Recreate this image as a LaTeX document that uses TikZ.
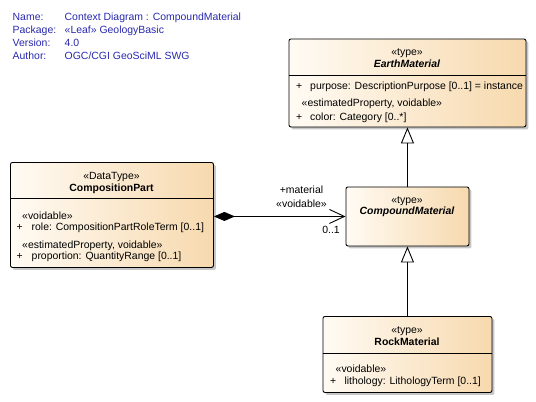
\documentclass[tikz,border=0pt]{standalone}
\usepackage{fontspec}
\setmainfont{Liberation Sans}
\usetikzlibrary{shadows,arrows.meta}
\definecolor{cl}{RGB}{255,251,244}
\definecolor{cr}{RGB}{247,217,174}
\definecolor{hdr}{RGB}{40,40,175}
\begin{document}
\begin{tikzpicture}[x=1pt,y=-1pt,
  cls/.style={draw=black, line width=0.9pt, rounded corners=2pt, left color=cl, right color=cr,
    drop shadow={shadow xshift=2.5pt, shadow yshift=-2.5pt, fill=black!22, opacity=1},
    inner sep=0pt, anchor=north west},
  txt/.style={font=\fontsize{10.45}{12}\selectfont, inner sep=0pt, anchor=base west},
  ctxt/.style={txt, anchor=base},
  hd/.style={txt, text=hdr},
  sep/.style={line width=0.9pt},
  gen/.style={line width=0.9pt, -{Triangle[open, length=16pt, width=13pt, fill=white]}},
  assoc/.style={line width=0.9pt, {Diamond[length=21pt, width=9pt, fill=black]}-{Straight Barb[length=15pt, width=14pt, line width=0.9pt]}}
]
\useasboundingbox (0,0) rectangle (536,402);

% header
\node[hd] (n1) at (12.5,20) {Name:};
\node[hd] (n2) at (12.5,33) {Package:};
\node[hd] (n3) at (12.5,46) {Version:};
\node[hd] (n4) at (12.5,59) {Author:};
\node[hd] (v1) at (64.5,20) {Context Diagram : CompoundMaterial};
\node[hd] (v2) at (64.5,33) {«Leaf» GeologyBasic};
\node[hd] (v3) at (64.5,46) {4.0};
\node[hd] (v4) at (64.5,59) {OGC/CGI GeoSciML SWG};

% boxes
\node[cls, minimum width=237pt, minimum height=88pt] (em) at (288.5,38.5) {};
\node[cls, minimum width=203pt, minimum height=105pt] (cp) at (10,162) {};
\node[cls, minimum width=123pt, minimum height=59pt] (cm) at (345.5,186.5) {};
\node[cls, minimum width=169pt, minimum height=76pt] (rm) at (322.5,316) {};

% separators
\draw[sep] (em.west |- 0,75) -- (em.east |- 0,75);
\draw[sep] (cp.west |- 0,198) -- (cp.east |- 0,198);
\draw[sep] (rm.west |- 0,353) -- (rm.east |- 0,353);

% EarthMaterial
\node[ctxt] (emst) at (407,55.5) {«type»};
\node[ctxt, font=\fontsize{10.45}{12}\selectfont\bfseries\itshape] (emnm) at (407,67.5) {EarthMaterial};
\node[txt] (ema1p) at (296,89) {+};
\node[txt] (ema1) at (310,89) {purpose: DescriptionPurpose [0..1] = instance};
\node[txt] (ems2) at (301.5,106.5) {«estimatedProperty, voidable»};
\node[txt] (ema2p) at (296,120.5) {+};
\node[txt] (ema2) at (310,120.5) {color: Category [0..*]};

% CompositionPart
\node[ctxt] (cpst) at (111.5,179.7) {«DataType»};
\node[ctxt, font=\fontsize{10.45}{12}\selectfont\bfseries] (cpnm) at (111.5,191.7) {CompositionPart};
\node[txt] (cps1) at (22,219) {«voidable»};
\node[txt] (cpa1p) at (16.5,230.7) {+};
\node[txt] (cpa1) at (31.5,230.7) {role: CompositionPartRoleTerm [0..1]};
\node[txt] (cps2) at (22,248.3) {«estimatedProperty, voidable»};
\node[txt] (cpa2p) at (16.5,259.7) {+};
\node[txt] (cpa2) at (31.5,259.7) {proportion: QuantityRange [0..1]};

% CompoundMaterial
\node[ctxt] (cmst) at (407,203.5) {«type»};
\node[ctxt, font=\fontsize{10.45}{12}\selectfont\bfseries\itshape] (cmnm) at (407,214.5) {CompoundMaterial};

% RockMaterial
\node[ctxt] (rmst) at (407,333.3) {«type»};
\node[ctxt, font=\fontsize{10.45}{12}\selectfont\bfseries] (rmnm) at (407,345.7) {RockMaterial};
\node[txt] (rms1) at (335.5,372.3) {«voidable»};
\node[txt] (rma1p) at (330,384.7) {+};
\node[txt] (rma1) at (344.3,384.7) {lithology: LithologyTerm [0..1]};

% connectors
\draw[gen] (cm.north) -- (cm.north |- em.south);
\draw[gen] (rm.north) -- (rm.north |- cm.south);
\draw[assoc] (cp.east |- cm.west) -- (cm.west);

% association labels
\node[ctxt] (al1) at (301.5,193.5) {+material};
\node[ctxt] (al2) at (301.5,207) {«voidable»};
\node[ctxt] (al3) at (331,233.5) {0..1};
\end{tikzpicture}
\end{document}
